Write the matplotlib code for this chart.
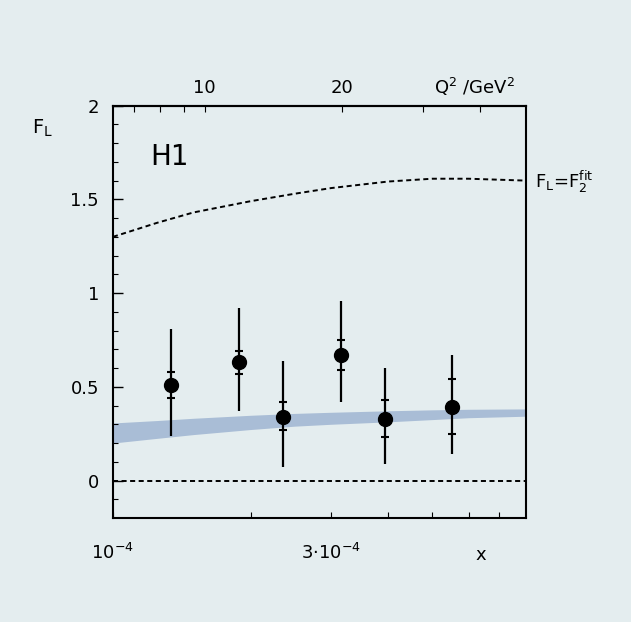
import matplotlib
matplotlib.use("Agg")
import matplotlib.pyplot as plt
import numpy as np
from matplotlib.ticker import FixedLocator, NullFormatter, FixedFormatter

# H1 F_L measurements
x_pts = [1.34e-4, 1.89e-4, 2.36e-4, 3.15e-4, 3.93e-4, 5.51e-4]
fl_vals = [0.51, 0.63, 0.34, 0.67, 0.33, 0.39]
stat_lo = [0.07, 0.06, 0.07, 0.08, 0.10, 0.14]
stat_hi = [0.07, 0.06, 0.08, 0.08, 0.10, 0.15]
tot_lo = [0.27, 0.26, 0.27, 0.25, 0.24, 0.25]
tot_hi = [0.30, 0.29, 0.30, 0.29, 0.27, 0.28]

# QCD expectation band
band_x = [1.0e-4, 1.25e-4, 1.5e-4, 2.0e-4, 2.5e-4, 3.0e-4, 4.0e-4, 5.0e-4, 6.0e-4, 8.0e-4]
band_lo = [0.200, 0.225, 0.245, 0.272, 0.290, 0.300, 0.313, 0.325, 0.335, 0.343]
band_hi = [0.307, 0.320, 0.332, 0.348, 0.358, 0.364, 0.372, 0.377, 0.380, 0.382]

# Upper limit F_L = F_2
f2_x = [1.0e-4, 1.25e-4, 1.5e-4, 2.0e-4, 2.5e-4, 3.0e-4, 4.0e-4, 5.0e-4, 6.0e-4, 8.0e-4]
f2_vals = [1.30, 1.375, 1.43, 1.49, 1.53, 1.56, 1.595, 1.61, 1.61, 1.60]

# Q^2 = c * x at fixed y
q2_per_x = 62970.0
q2_ticks = [7, 8, 9, 10, 20, 30, 40]
q2_labels = ["", "", "", "10", "20", "", ""]

bg = "#e4edef"
plt.rcParams["font.family"] = ["DejaVu Sans"]
plt.rcParams["mathtext.fontset"] = "dejavusans"

fig = plt.figure(figsize=(6.31, 6.22), dpi=100, facecolor=bg)
ax = fig.add_axes([0.179, 0.1672, 0.654, 0.663])
ax.set_facecolor(bg)
ax.set_xscale("log")
ax.set_xlim(1e-4, 8e-4)
ax.set_ylim(-0.2, 2.0)

ax.fill_between(band_x, band_lo, band_hi, color="#a9bdd6", lw=0, zorder=1)
ax.plot(f2_x, f2_vals, color="black", lw=1.4, ls=(0, (2.6, 1.8)), zorder=2)
ax.axhline(0, color="black", lw=1.4, ls=(0, (2.6, 1.8)), zorder=2)

ax.errorbar(x_pts, fl_vals, yerr=[tot_lo, tot_hi], fmt="o", ms=10,
            color="black", elinewidth=1.6, capsize=0, zorder=4)
ax.errorbar(x_pts, fl_vals, yerr=[stat_lo, stat_hi], fmt="none",
            ecolor="black", elinewidth=0, capsize=3, capthick=1.5, zorder=4)

for s in ax.spines.values():
    s.set_linewidth(1.5)

# y axis ticks
ax.yaxis.set_major_locator(FixedLocator([0, 0.5, 1, 1.5, 2]))
ax.yaxis.set_major_formatter(FixedFormatter(["0", "0.5", "1", "1.5", "2"]))
ax.yaxis.set_minor_locator(FixedLocator(np.round(np.arange(-0.1, 2.0, 0.1), 2)))
ax.tick_params(axis="y", which="major", direction="in", length=7, width=1.0,
               labelsize=13, pad=10, right=False)
ax.tick_params(axis="y", which="minor", direction="in", length=3.5, width=0.8,
               right=False)

# bottom x axis
ax.xaxis.set_major_locator(FixedLocator([1e-4, 3e-4]))
ax.xaxis.set_major_formatter(FixedFormatter([r"$10^{-4}$", r"$3{\cdot}10^{-4}$"]))
ax.xaxis.set_minor_locator(FixedLocator([2e-4, 4e-4, 5e-4, 6e-4, 7e-4]))
ax.xaxis.set_minor_formatter(NullFormatter())
ax.tick_params(axis="x", which="major", direction="in", length=4, width=0.8,
               labelsize=13, pad=18, top=False)
ax.tick_params(axis="x", which="minor", direction="in", length=4, width=0.8,
               top=False)

# top Q^2 axis
sec = ax.secondary_xaxis("top", functions=(lambda x: x * q2_per_x,
                                             lambda q: q / q2_per_x))
sec.xaxis.set_major_locator(FixedLocator(q2_ticks))
sec.xaxis.set_major_formatter(FixedFormatter(q2_labels))
sec.xaxis.set_minor_locator(FixedLocator([]))
sec.tick_params(axis="x", which="major", direction="in", length=4, width=0.8,
                labelsize=13, pad=6)
sec.spines["top"].set_linewidth(1.5)

# labels
ax.text(0.877, 1.045, r"Q$^2$ /GeV$^2$", transform=ax.transAxes,
        ha="center", va="center", fontsize=13)
ax.text(0.892, -0.09, "x", transform=ax.transAxes, ha="center", va="center",
        fontsize=13)
fig.text(42 / 631, 1 - 128 / 622, r"F$_{\rm L}$", ha="center", va="center",
         fontsize=14)
fig.text(535 / 631, 1 - 182 / 622, r"F$_{\rm L}$=F$_2^{\rm fit}$",
         ha="left", va="center", fontsize=13)
ax.text(0.09, 0.875, "H1", transform=ax.transAxes, ha="left", va="center",
        fontsize=20)

fig.savefig("out.png", dpi=100, facecolor=bg)
